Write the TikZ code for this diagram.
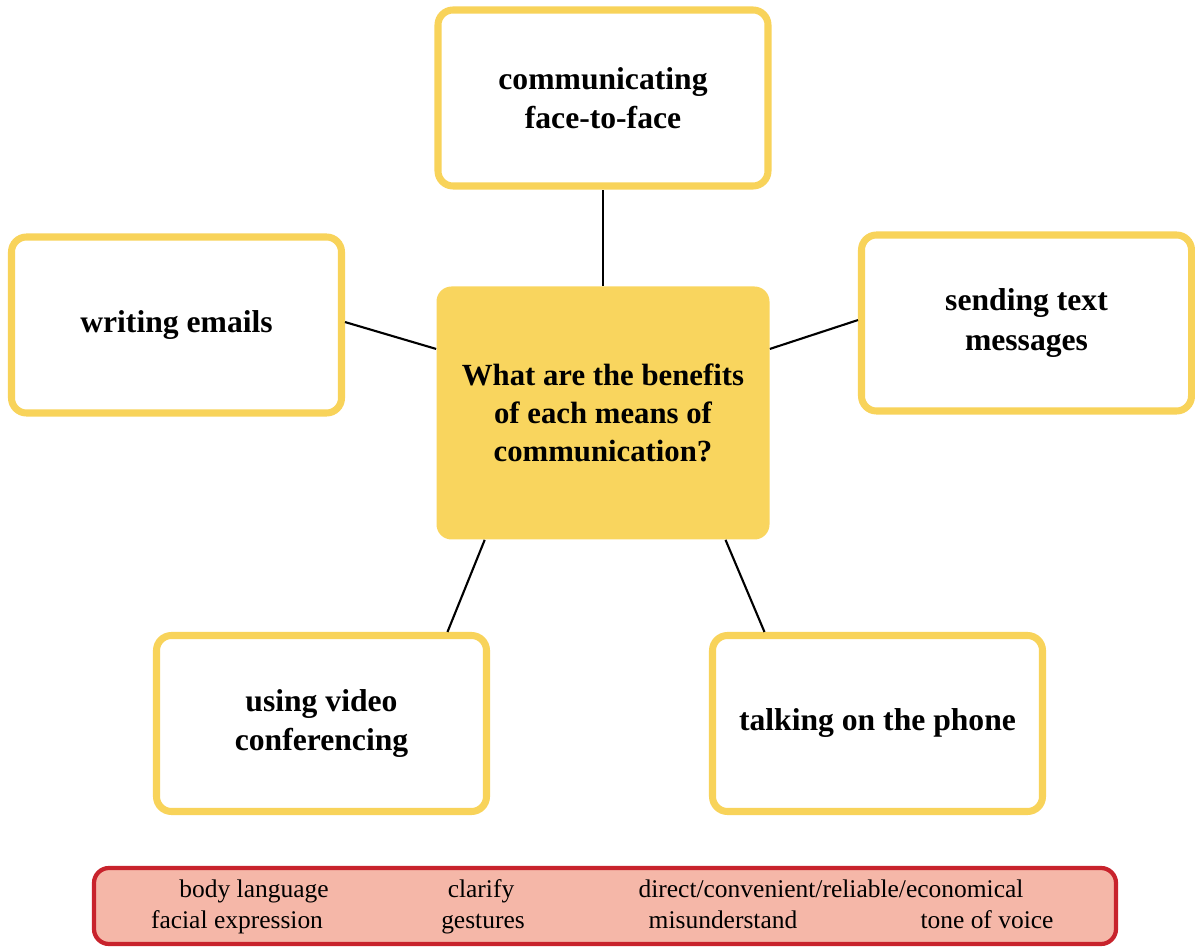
\documentclass[tikz,border=0pt]{standalone}
\usepackage{fontspec}
\setmainfont{Liberation Serif}
\usepackage{tikz}

\definecolor{boxyellow}{HTML}{F8D35A}
\definecolor{qfill}{HTML}{F9D55E}
\definecolor{wordred}{HTML}{C8232C}
\definecolor{wordfill}{HTML}{F5B7A8}

\begin{document}
\begin{tikzpicture}[
    means/.style={draw=boxyellow, line width=4pt, fill=white, rounded corners=0.3cm,
      minimum width=6.6cm, minimum height=3.52cm, align=center,
      font=\fontsize{18}{22.5}\selectfont\bfseries},
    question/.style={fill=qfill, rounded corners=0.3cm, minimum width=6.66cm,
      minimum height=5.06cm, align=center, font=\fontsize{17.5}{21.5}\selectfont\bfseries},
    wordbox/.style={draw=wordred, line width=2.4pt, fill=wordfill, rounded corners=0.3cm,
      minimum width=20.44cm, minimum height=1.52cm},
    word/.style={anchor=base, inner sep=0pt, font=\fontsize{14.5}{17}\selectfont},
    link/.style={line width=1.2pt, black}]
  \useasboundingbox (0,0) rectangle (23.9,18.96);

  % central question
  \node[question] (q) at (12.06,10.70) {What are the benefits\\of each means of\\communication?};

  % the five means of communication
  \node[means] (face) at (12.06,17.00) {communicating\\face-to-face};
  \node[means] (email) at (3.53,12.46) {writing emails};
  \node[means] (text) at (20.53,12.50) {sending text\\messages};
  \node[means] (video) at (6.43,4.49) {using video\\conferencing};
  \node[means] (phone) at (17.55,4.49) {talking on the phone};

  % connectors
  \draw[link] (q.north) -- (face.south);
  \draw[link] (q.159) -- (email.1);
  \draw[link] (q.21) -- (text.179);
  \draw[link] (q.227) -- (video.36);
  \draw[link] (q.314) -- (phone.141);

  % word box
  \node[wordbox] (words) at (12.10,0.84) {};
  \node[word] (w1) at (5.08,1.02) {body language};
  \node[word] (w2) at (9.62,1.02) {clarify};
  \node[word] (w3) at (16.62,1.02) {direct/convenient/reliable/economical};
  \node[word] (w4) at (4.74,0.40) {facial expression};
  \node[word] (w5) at (9.66,0.40) {gestures};
  \node[word] (w6) at (14.46,0.40) {misunderstand};
  \node[word] (w7) at (19.74,0.40) {tone of voice};
\end{tikzpicture}
\end{document}
